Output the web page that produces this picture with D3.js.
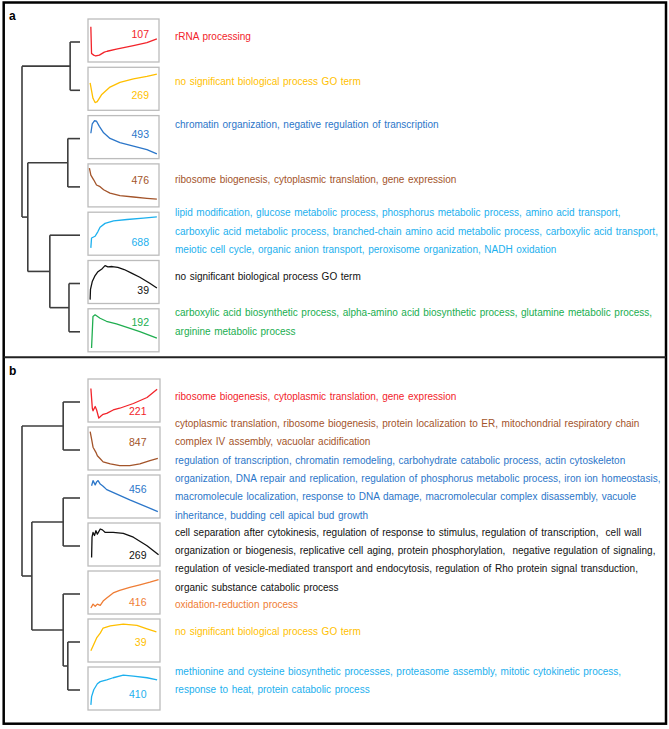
<!DOCTYPE html>
<html>
<head>
<meta charset="utf-8">
<script src="https://cdn.jsdelivr.net/npm/d3@7"></script>
<style>
  body { margin: 0; background: #fff; }
  svg text { font-family: "Liberation Sans", Arial, sans-serif; white-space: pre; }
</style>
</head>
<body>
<div id="chart"></div>
<script>
// ---------- panel a ----------
var aCounts = [107, 269, 493, 476, 688, 39, 192];
var aTerms = [
  ["rRNA processing"],
  ["no significant biological process GO term"],
  ["chromatin organization, negative regulation of transcription"],
  ["ribosome biogenesis, cytoplasmic translation, gene expression"],
  ["lipid modification, glucose metabolic process, phosphorus metabolic process, amino acid transport,",
   "carboxylic acid metabolic process, branched-chain amino acid metabolic process, carboxylic acid transport,",
   "meiotic cell cycle, organic anion transport, peroxisome organization, NADH oxidation"],
  ["no significant biological process GO term"],
  ["carboxylic acid biosynthetic process, alpha-amino acid biosynthetic process, glutamine metabolic process,",
   "arginine metabolic process"]
];
// expression profiles, [time, level] as fraction of the thumbnail
var aProfiles = [
  [[.04,.82],[.05,.20],[.08,.16],[.11,.14],[.16,.16],[.23,.23],[.27,.25],[.40,.30],[.64,.38],[.83,.45],[.97,.54]],
  [[.03,.64],[.07,.28],[.10,.18],[.13,.20],[.19,.36],[.31,.54],[.45,.65],[.64,.73],[.83,.79],[.97,.84]],
  [[.04,.59],[.06,.81],[.09,.88],[.12,.87],[.16,.75],[.22,.60],[.31,.47],[.45,.37],[.64,.29],[.83,.21],[.97,.11]],
  [[.02,.90],[.04,.74],[.08,.63],[.12,.51],[.17,.47],[.22,.40],[.31,.32],[.45,.26],[.64,.23],[.83,.20],[.97,.18]],
  [[.04,.17],[.05,.40],[.10,.44],[.14,.55],[.17,.65],[.24,.74],[.36,.80],[.55,.83],[.78,.86],[.97,.89]],
  [[.03,.09],[.035,.33],[.06,.51],[.10,.65],[.14,.74],[.20,.81],[.24,.88],[.28,.85],[.34,.86],[.42,.84],[.51,.79],[.62,.70],[.73,.61],[.87,.47],[.97,.36]],
  [[.05,.09],[.07,.82],[.10,.86],[.17,.78],[.26,.71],[.40,.65],[.55,.57],[.73,.47],[.97,.32]]
];
// dendrogram merge heights (leaves = 0, root = 1)
var aTree = {h: 1, c: [{h: .17, c: [0, 1]},
                       {h: .9, c: [{h: .21, c: [2, 3]},
                                   {h: .52, c: [4, {h: .19, c: [5, 6]}]}]}]};

// ---------- panel b ----------
var bCounts = [221, 847, 456, 269, 416, 39, 410];
var bTerms = [
  ["ribosome biogenesis, cytoplasmic translation, gene expression"],
  ["cytoplasmic translation, ribosome biogenesis, protein localization to ER, mitochondrial respiratory chain",
   "complex IV assembly, vacuolar acidification"],
  ["regulation of transcription, chromatin remodeling, carbohydrate catabolic process, actin cytoskeleton",
   "organization, DNA repair and replication, regulation of phosphorus metabolic process, iron ion homeostasis,",
   "macromolecule localization, response to DNA damage, macromolecular complex disassembly, vacuole",
   "inheritance, budding cell apical bud growth"],
  ["cell separation after cytokinesis, regulation of response to stimulus, regulation of transcription,  cell wall",
   "organization or biogenesis, replicative cell aging, protein phosphorylation,  negative regulation of signaling,",
   "regulation of vesicle-mediated transport and endocytosis, regulation of Rho protein signal transduction,",
   "organic substance catabolic process"],
  ["oxidation-reduction process"],
  ["no significant biological process GO term"],
  ["methionine and cysteine biosynthetic processes, proteasome assembly, mitotic cytokinetic process,",
   "response to heat, protein catabolic process"]
];
var bProfiles = [
  [[.04,.78],[.06,.32],[.07,.26],[.10,.36],[.12,.28],[.15,.09],[.18,.14],[.21,.18],[.26,.20],[.35,.28],[.44,.32],[.63,.43],[.82,.57],[.96,.76]],
  [[.03,.89],[.05,.72],[.07,.53],[.11,.41],[.13,.33],[.17,.26],[.21,.19],[.31,.14],[.44,.10],[.58,.10],[.72,.14],[.86,.22],[.97,.27]],
  [[.05,.75],[.07,.87],[.10,.77],[.12,.84],[.14,.87],[.17,.79],[.21,.74],[.26,.66],[.58,.42],[.97,.15]],
  [[.05,.20],[.056,.67],[.07,.78],[.09,.71],[.11,.82],[.13,.74],[.17,.86],[.20,.84],[.24,.78],[.35,.78],[.49,.76],[.63,.67],[.82,.47],[.98,.26]],
  [[.04,.14],[.07,.23],[.10,.18],[.13,.23],[.17,.20],[.21,.30],[.26,.37],[.35,.49],[.44,.55],[.58,.62],[.72,.68],[.86,.74],[.98,.80]],
  [[.04,.26],[.07,.37],[.12,.56],[.17,.67],[.21,.79],[.31,.84],[.49,.88],[.68,.85],[.82,.77],[.95,.70]],
  [[.04,.12],[.05,.31],[.08,.47],[.13,.61],[.17,.66],[.26,.70],[.35,.75],[.49,.81],[.63,.79],[.82,.75],[.96,.70]]
];
var bTree = {h: 1, c: [{h: .29, c: [0, 1]},
                       {h: .83, c: [{h: .29, c: [2, 3]},
                                    {h: .29, c: [4, {h: .21, c: [5, 6]}]}]}]};

// ---------- styles / layout ----------
var aColors = ["#f2232a", "#ffbf00", "#2b76c9", "#a3542a", "#1cb0ee", "#111111", "#20ae50"];
var bColors = ["#f2232a", "#a3542a", "#2b76c9", "#111111", "#ef7d35", "#ffbf00", "#1cb0ee"];

var W = 669, H = 729;
var panels = [
  {label: "a", labelY: 20, counts: aCounts, terms: aTerms, profiles: aProfiles, tree: aTree, colors: aColors,
   top: 19, step: 48.3, boxW: 71, numRight: 61,
   numDy: [15.3, 27.7, 19, 16, 30, 30, 14],
   textY: [36.7, 81.7, 125, 180, 213, 277, 313], lineH: 18.6},
  {label: "b", labelY: 375, counts: bCounts, terms: bTerms, profiles: bProfiles, tree: bTree, colors: bColors,
   top: 379, step: 48, boxW: 72, numRight: 58.5,
   numDy: [32.7, 15.7, 14.3, 32.3, 31.7, 23, 27.3],
   textY: [397, 424, 461, 533, 605, 632, 672], lineH: 18.2}
];
var boxX = 88, boxH = 43, textX = 175;

var svg = d3.select("#chart").append("svg")
  .attr("width", W).attr("height", H);

svg.append("rect").attr("width", W).attr("height", H).attr("fill", "#fff");

panels.forEach(function (p) {
  var g = svg.append("g");
  var boxTop = d3.scaleLinear().domain([0, 1]).range([p.top, p.top + p.step]);
  var dx = d3.scaleLinear().domain([0, 1]).range([80, 22]);

  g.append("text")
    .attr("x", 9).attr("y", p.labelY)
    .attr("font-size", 12).attr("font-weight", "bold")
    .text(p.label);

  // dendrogram
  var segs = [];
  function walk(node) {
    if (typeof node === "number") return {y: boxTop(node) + boxH / 2 + 1.5, h: 0};
    var kids = node.c.map(walk);
    kids.forEach(function (k) { segs.push([[dx(node.h), k.y], [dx(k.h), k.y]]); });
    segs.push([[dx(node.h), kids[0].y], [dx(node.h), kids[kids.length - 1].y]]);
    return {y: (kids[0].y + kids[kids.length - 1].y) / 2, h: node.h};
  }
  walk(p.tree);
  g.selectAll("path.dendro").data(segs).enter().append("path")
    .attr("class", "dendro")
    .attr("d", d3.line())
    .attr("fill", "none")
    .attr("stroke", "#3d3d3d")
    .attr("stroke-width", 1.6);

  // thumbnails
  p.counts.forEach(function (n, i) {
    var y0 = boxTop(i);
    g.append("rect")
      .attr("x", boxX).attr("y", y0)
      .attr("width", p.boxW).attr("height", boxH)
      .attr("fill", "#fff")
      .attr("stroke", "#bcbcbc").attr("stroke-width", 1.3);

    var sx = d3.scaleLinear().domain([0, 1]).range([boxX, boxX + p.boxW]);
    var sy = d3.scaleLinear().domain([0, 1]).range([y0 + boxH, y0]);
    g.append("path")
      .datum(p.profiles[i])
      .attr("d", d3.line().x(function (d) { return sx(d[0]); }).y(function (d) { return sy(d[1]); }))
      .attr("fill", "none")
      .attr("stroke", p.colors[i])
      .attr("stroke-width", 1.3)
      .attr("stroke-linejoin", "round");

    g.append("text")
      .attr("x", boxX + p.numRight)
      .attr("y", y0 + p.numDy[i] + 3.6)
      .attr("text-anchor", "end")
      .attr("font-size", 10.5)
      .attr("fill", p.colors[i])
      .text(n);

    // GO terms
    g.selectAll(null).data(p.terms[i]).enter().append("text")
      .attr("x", textX)
      .attr("y", function (d, j) { return p.textY[i] + j * p.lineH + 3; })
      .attr("font-size", 10)
      .attr("word-spacing", 0.8)
      .attr("fill", p.colors[i])
      .text(function (d) { return d; });
  });
});

// frame and divider
svg.append("rect")
  .attr("x", 3.7).attr("y", 2.5).attr("width", 662.3).attr("height", 721.2)
  .attr("fill", "none").attr("stroke", "#000").attr("stroke-width", 2.5);
svg.append("line")
  .attr("x1", 3.7).attr("x2", 666).attr("y1", 357.3).attr("y2", 357.3)
  .attr("stroke", "#222").attr("stroke-width", 2);
</script>
</body>
</html>
